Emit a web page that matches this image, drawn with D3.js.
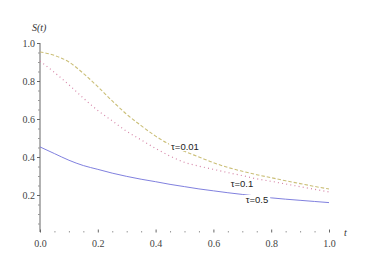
<!DOCTYPE html>
<html>
<head>
<meta charset="utf-8">
<script src="https://cdn.jsdelivr.net/npm/d3@7"></script>
<style>
  html, body { margin: 0; padding: 0; background: #fff; }
  svg { display: block; }
  .serif { font-family: "Times New Roman", "Liberation Serif", "DejaVu Serif", serif; }
</style>
</head>
<body>
<svg id="chart" width="374" height="275"></svg>
<script>
// ---- data ----
const tValues = [0, 0.05, 0.1, 0.15, 0.2, 0.25, 0.3, 0.35, 0.4, 0.45, 0.5,
                 0.55, 0.6, 0.65, 0.7, 0.75, 0.8, 0.85, 0.9, 0.95, 1.0];
const sTau001 = [0.953, 0.935, 0.90, 0.84, 0.77, 0.695, 0.625, 0.565, 0.51, 0.465, 0.43,
                 0.40, 0.37, 0.345, 0.325, 0.307, 0.291, 0.275, 0.26, 0.245, 0.232];
const sTau01  = [0.905, 0.845, 0.78, 0.71, 0.645, 0.59, 0.535, 0.49, 0.445, 0.405, 0.372,
                 0.352, 0.335, 0.318, 0.302, 0.285, 0.272, 0.258, 0.244, 0.23, 0.216];
const sTau05  = [0.453, 0.418, 0.383, 0.355, 0.335, 0.315, 0.298, 0.283, 0.27, 0.256, 0.244,
                 0.232, 0.222, 0.212, 0.203, 0.194, 0.185, 0.178, 0.172, 0.166, 0.16];
const seriesNames = ["τ=0.01", "τ=0.1", "τ=0.5"];
const xTicks = [0.0, 0.2, 0.4, 0.6, 0.8, 1.0];
const yTicks = [0.2, 0.4, 0.6, 0.8, 1.0];
const minorStep = 0.05;
const xLabel = "t";
const yLabel = "S(t)";

// ---- layout ----
const svg = d3.select("#chart");
const x = d3.scaleLinear().domain([0, 1]).range([40, 329]);
const y = d3.scaleLinear().domain([0, 1]).range([233, 43]);
const axisColor = "#666";
const labelColor = "#444";
const serifFont = '"Times New Roman", "Liberation Serif", "DejaVu Serif", serif';

const minorVals = d3.range(1, 20).map(i => +(i * minorStep).toFixed(2));
const xMinor = minorVals.filter(v => !xTicks.some(t => Math.abs(t - v) < 1e-6));
const yMinor = minorVals.filter(v => !yTicks.some(t => Math.abs(t - v) < 1e-6));

// y axis
const yAxisG = svg.append("g").attr("transform", `translate(${x(0)},0)`)
  .call(d3.axisLeft(y).tickValues(yTicks).tickSize(3).tickSizeOuter(0)
        .tickPadding(2).tickFormat(d3.format(".1f")))
  .attr("font-family", serifFont).attr("font-size", 10);
yAxisG.select(".domain").attr("stroke", axisColor).attr("d", `M0,${y(1)}V${y(0) - 1}`);
yAxisG.selectAll(".tick line").attr("stroke", axisColor);
yAxisG.selectAll(".tick text").attr("fill", labelColor);
const yMinorG = svg.append("g").attr("transform", `translate(${x(0)},0)`)
  .call(d3.axisLeft(y).tickValues(yMinor).tickSize(2).tickFormat(""));
yMinorG.select(".domain").remove();
yMinorG.selectAll(".tick line").attr("stroke", "#999");

// x axis (ticks pointing up, no baseline)
const xAxisG = svg.append("g").attr("transform", `translate(0,${y(0) - 0.5})`)
  .call(d3.axisBottom(x).tickValues(xTicks).tickSize(-3).tickPadding(7)
        .tickFormat(d3.format(".1f")))
  .attr("font-family", serifFont).attr("font-size", 10);
xAxisG.select(".domain").remove();
xAxisG.selectAll(".tick line").attr("stroke", axisColor);
xAxisG.selectAll(".tick text").attr("fill", labelColor);
const xMinorG = svg.append("g").attr("transform", `translate(0,${y(0) - 0.5})`)
  .call(d3.axisBottom(x).tickValues(xMinor).tickSize(-1.5).tickFormat(""));
xMinorG.select(".domain").remove();
xMinorG.selectAll(".tick line").attr("stroke", "#999");

// axis labels
svg.append("text").attr("x", 32).attr("y", 31)
  .attr("font-family", serifFont).attr("font-size", 10)
  .attr("font-style", "italic").attr("fill", "#333").text(yLabel);
svg.append("text").attr("x", 344).attr("y", 236)
  .attr("font-family", serifFont).attr("font-size", 10)
  .attr("font-style", "italic").attr("fill", "#333").text(xLabel);

// curves
const line = d3.line().x(d => x(d[0])).y(d => y(d[1])).curve(d3.curveMonotoneX);
const series = [
  { vals: sTau001, color: "#cbbf78", width: 1.1, dash: "3.5,2" },
  { vals: sTau01,  color: "#d686a8", width: 1.2, dash: "1,3.2" },
  { vals: sTau05,  color: "#7272da", width: 0.9, dash: null }
];
series.forEach(s => {
  svg.append("path")
    .datum(tValues.map((t, i) => [t, s.vals[i]]))
    .attr("fill", "none").attr("stroke", s.color)
    .attr("stroke-width", s.width)
    .attr("stroke-dasharray", s.dash)
    .attr("d", line);
});

// curve labels (with white background)
const labelPos = [[185, 150], [242, 187], [257, 203]];
seriesNames.forEach((name, i) => {
  const g = svg.append("g");
  const txt = g.append("text").attr("x", labelPos[i][0]).attr("y", labelPos[i][1])
    .attr("text-anchor", "middle")
    .attr("font-family", "'Liberation Sans', Arial, sans-serif").attr("font-size", 9.5)
    .attr("fill", "#222").text(name);
  const bb = txt.node().getBBox();
  g.insert("rect", "text").attr("x", bb.x - 2).attr("y", bb.y + 1)
    .attr("width", bb.width + 4).attr("height", bb.height - 2).attr("fill", "#fff");
});
</script>
</body>
</html>
